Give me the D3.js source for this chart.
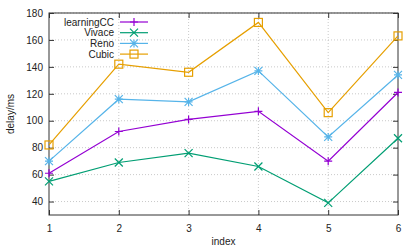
<!DOCTYPE html>
<html>
<head>
<meta charset="utf-8">
<script src="https://cdn.jsdelivr.net/npm/d3@7"></script>
<style>
    body { margin: 0; background: #fff; }
    text { font-family: "Liberation Sans", Arial, sans-serif; font-size: 10px; fill: #222; }
</style>
</head>
<body>
<svg id="mainFrame"></svg>
<script>
const indices = [1, 2, 3, 4, 5, 6]
const yTicks = [40, 60, 80, 100, 120, 140, 160, 180]

const learningCC = [61, 92, 101, 107, 70, 121]
const vivace = [55, 69, 76, 66, 39, 87]
const reno = [70, 116, 114, 137, 88, 134]
const cubic = [82, 142, 136, 173, 106, 163]

const seriesNames = ['learningCC', 'Vivace', 'Reno', 'Cubic']
const seriesColors = ['#9400d3', '#009e73', '#56b4e9', '#e69f00']
const seriesMarkers = ['plus', 'cross', 'star', 'square']

const width = 415
const height = 249
const margin = { top: 13, right: 17, bottom: 34, left: 49 }
const ourWidth = width - margin.left - margin.right
const ourHeight = height - margin.top - margin.bottom

const svg = d3.select('#mainFrame')
    .attr('width', width)
    .attr('height', height)

const g = svg.append('g')
    .attr('transform', `translate(${margin.left},${margin.top})`)

const xScale = d3.scaleLinear().domain([1, 6]).range([0, ourWidth])
const yScale = d3.scaleLinear().domain([30, 180]).range([ourHeight, 0])

// grid
g.append('g').selectAll('line.gy').data(yTicks).join('line')
    .attr('x1', 0).attr('x2', ourWidth)
    .attr('y1', d => yScale(d)).attr('y2', d => yScale(d))
    .attr('stroke', '#bbb').attr('stroke-width', 0.8).attr('stroke-dasharray', '1,2')
g.append('g').selectAll('line.gx').data(indices.slice(1, -1)).join('line')
    .attr('x1', d => xScale(d)).attr('x2', d => xScale(d))
    .attr('y1', 0).attr('y2', ourHeight)
    .attr('stroke', '#bbb').attr('stroke-width', 0.8).attr('stroke-dasharray', '1,2')

// axes
const yAxis = d3.axisLeft(yScale).tickValues(yTicks).tickSize(-5).tickPadding(6)
const yAxisR = d3.axisRight(yScale).tickValues(yTicks).tickSize(-5).tickFormat('')
const xAxis = d3.axisBottom(xScale).tickValues(indices).tickSize(-5).tickPadding(10).tickFormat(d3.format('d'))
const xAxisT = d3.axisTop(xScale).tickValues(indices).tickSize(-5).tickFormat('')

const styleAxis = sel => {
    sel.select('.domain').remove()
    sel.selectAll('line').attr('stroke', '#333')
    sel.selectAll('text').style('font-size', '10px').attr('fill', '#222')
}
g.append('g').call(yAxis).call(styleAxis)
g.append('g').attr('transform', `translate(${ourWidth},0)`).call(yAxisR).call(styleAxis)
g.append('g').attr('transform', `translate(0,${ourHeight})`).call(xAxis).call(styleAxis)
g.append('g').call(xAxisT).call(styleAxis)

g.append('rect')
    .attr('width', ourWidth).attr('height', ourHeight)
    .attr('fill', 'none').attr('stroke', '#333').attr('stroke-width', 1)

// labels
svg.append('text')
    .attr('x', margin.left + ourWidth / 2).attr('y', 245)
    .attr('text-anchor', 'middle').text('index')
svg.append('text')
    .attr('transform', `translate(14,${margin.top + ourHeight / 2}) rotate(-90)`)
    .attr('text-anchor', 'middle').text('delay/ms')

const drawMarker = (sel, type, color, x, y) => {
    const s = 4
    if (type === 'square') {
        sel.append('rect').attr('x', x - s).attr('y', y - s).attr('width', 2 * s).attr('height', 2 * s)
            .attr('fill', 'none').attr('stroke', color).attr('stroke-width', 1.2)
        return
    }
    let d = ''
    if (type === 'plus' || type === 'star') d += `M${x - s},${y}H${x + s}M${x},${y - s}V${y + s}`
    if (type === 'cross' || type === 'star') d += `M${x - s},${y - s}L${x + s},${y + s}M${x - s},${y + s}L${x + s},${y - s}`
    sel.append('path').attr('d', d).attr('stroke', color).attr('stroke-width', 1.2).attr('fill', 'none')
}

const allValues = [learningCC, vivace, reno, cubic]
const line = d3.line().x((d, i) => xScale(indices[i])).y(d => yScale(d))

allValues.forEach((values, k) => {
    const grp = g.append('g')
    grp.append('path')
        .attr('d', line(values))
        .attr('fill', 'none').attr('stroke', seriesColors[k]).attr('stroke-width', 1.2)
    values.forEach((v, i) => drawMarker(grp, seriesMarkers[k], seriesColors[k], xScale(indices[i]), yScale(v)))
})

// legend
const legend = svg.append('g')
seriesNames.forEach((name, k) => {
    const y = 22 + k * 10.7
    legend.append('text').attr('x', 114).attr('y', y + 3.5).attr('text-anchor', 'end').text(name)
    legend.append('line').attr('x1', 120).attr('x2', 148).attr('y1', y).attr('y2', y)
        .attr('stroke', seriesColors[k]).attr('stroke-width', 1.2)
    drawMarker(legend, seriesMarkers[k], seriesColors[k], 134, y)
})
</script>
</body>
</html>
